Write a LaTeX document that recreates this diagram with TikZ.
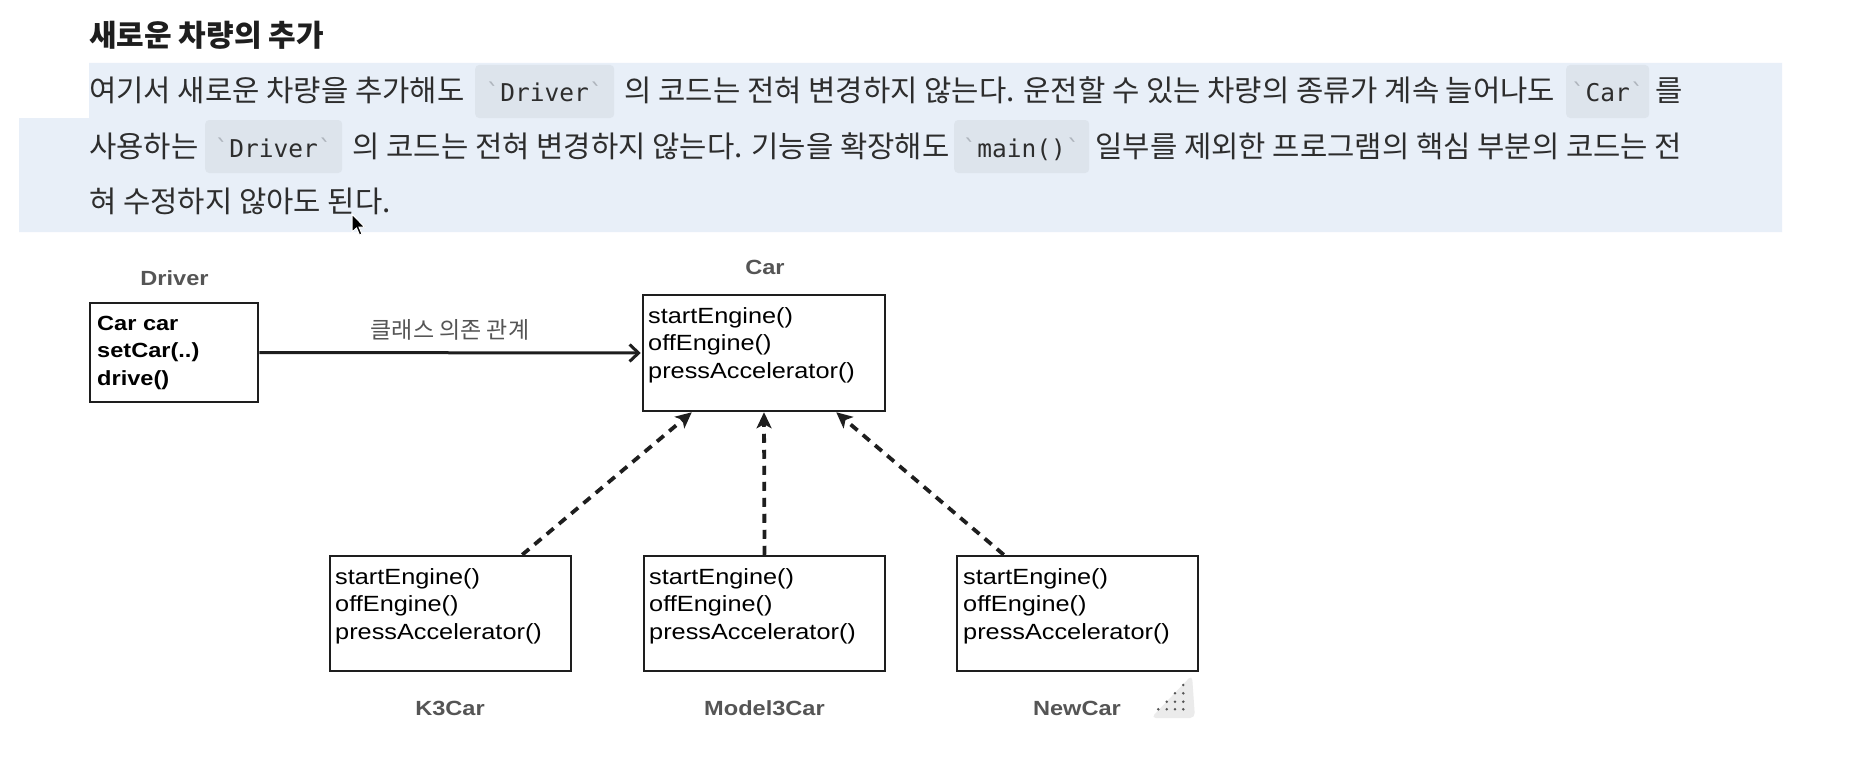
\documentclass[tikz,border=0pt]{standalone}
\usepackage{fontspec}
\usetikzlibrary{arrows.meta,calc}
\newfontfamily\kr{Noto Sans CJK KR}
\newfontfamily\dg{Liberation Sans}[FakeStretch=1.15]
\newfontfamily\mono{DejaVu Sans Mono}
\definecolor{hl}{RGB}{232,239,248}
\definecolor{codebg}{RGB}{221,228,236}
\definecolor{bodytext}{RGB}{45,45,45}
\definecolor{titletext}{RGB}{30,30,30}
\definecolor{tick}{RGB}{175,181,189}
\definecolor{lblgray}{RGB}{85,85,85}
\definecolor{boxline}{RGB}{30,30,30}
\newcommand\tk{\textcolor{tick}{\char"60}}
\begin{document}
\begin{tikzpicture}[x=1pt,y=-1pt,
  seg/.style={anchor=base west, inner sep=0, font=\kr\fontsize{29.7}{36}\selectfont, text=bodytext},
  codebox/.style={anchor=base west, fill=codebg, rounded corners=4pt, inner xsep=0pt, inner ysep=0pt,
     text height=37pt, text depth=16pt, font=\mono\fontsize{24.5}{30}\selectfont, text=bodytext},
  classbox/.style={draw=boxline, line width=2.5pt, fill=white, inner sep=0pt},
  ctext/.style={anchor=base west, inner sep=0pt, font=\dg\fontsize{22}{27.8}\selectfont, text=black},
  btext/.style={anchor=base west, inner sep=0pt, font=\dg\bfseries\fontsize{20.5}{27.8}\selectfont, text=black},
  lbl/.style={anchor=base, inner sep=0pt, font=\dg\bfseries\fontsize{20.5}{25}\selectfont, text=lblgray},
  dep/.style={line width=3pt, draw=boxline, shorten >=1pt, -{Straight Barb[length=9pt,width=17pt,line width=3pt]}},
  impl/.style={line width=3.8pt, draw=boxline, dash pattern=on 9pt off 7pt, -{Stealth[length=16pt,width=15pt,inset=4pt]}}
]
\useasboundingbox (0,0) rectangle (1856,776);
\fill[white] (0,0) rectangle (1856,776);

% highlight
\fill[hl] (89,63) -- (1782,63) -- (1782,232) -- (19,232) -- (19,118) -- (89,118) -- cycle;

% title
\node[anchor=base west, inner sep=0pt, font=\kr\bfseries\fontsize{30}{36}\selectfont, text=titletext] (title) at (89,47) {새로운 차량의 추가};

% line 1
\node[seg] (l1a) at (89,102) {여기서 새로운 차량을 추가해도};
\node[codebox, minimum width=139pt] (l1c1) at (475,102) {\tk Driver\tk};
\node[seg] (l1b) at ($(l1c1.base east)+(10,0)$) {의 코드는 전혀 변경하지 않는다. 운전할 수 있는 차량의 종류가 계속 늘어나도};
\node[codebox, minimum width=83pt] (l1c2) at (1566,102) {\tk Car\tk};
\node[seg] (l1d) at ($(l1c2.base east)+(6,0)$) {를};

% line 2
\node[seg] (l2a) at (89,157) {사용하는};
\node[codebox, minimum width=137pt] (l2c1) at (205,157) {\tk Driver\tk};
\node[seg] (l2b) at ($(l2c1.base east)+(10,0)$) {의 코드는 전혀 변경하지 않는다. 기능을 확장해도};
\node[codebox, minimum width=135pt] (l2c2) at (954,157) {\tk main()\tk};
\node[seg] (l2d) at ($(l2c2.base east)+(6,0)$) {일부를 제외한 프로그램의 핵심 부분의 코드는 전};

% line 3
\node[seg] (l3a) at (89,212) {혀 수정하지 않아도 된다.};

% cursor
\fill[black, draw=white, line width=1pt] (352,214) -- ++(0,18) -- ++(4.5,-4) -- ++(3,7) -- ++(2.5,-1) -- ++(-3,-7) -- ++(5.5,0) -- cycle;

% Driver
\node[lbl] (driverlbl) at (174.5,285) {Driver};
\node[classbox, minimum width=168pt, minimum height=99pt] (driver) at (174,352.5) {};
\node[btext] (drivertext) at (97,330) {\begin{tabular}[t]{@{}l@{}}Car car\\setCar(..)\\drive()\end{tabular}};

% Car
\node[lbl] (carlbl) at (765,274) {Car};
\node[classbox, minimum width=242pt, minimum height=116pt] (car) at (764,353) {};
\node[ctext] (cartext) at (648,323) {\begin{tabular}[t]{@{}l@{}}startEngine()\\offEngine()\\pressAccelerator()\end{tabular}};

% dependency arrow
\draw[dep] (driver.east) -- (car.west);
\node[anchor=base, inner sep=0pt, font=\kr\fontsize{23}{28}\selectfont, text=lblgray] (deplbl) at (450,338) {클래스 의존 관계};

% implementations
\node[classbox, minimum width=241pt, minimum height=115pt] (k3) at (450.5,613.5) {};
\node[ctext] (k3text) at (335,584) {\begin{tabular}[t]{@{}l@{}}startEngine()\\offEngine()\\pressAccelerator()\end{tabular}};
\node[lbl] (k3lbl) at (450,715) {K3Car};

\node[classbox, minimum width=241pt, minimum height=115pt] (m3) at (764.5,613.5) {};
\node[ctext] (m3text) at (649,584) {\begin{tabular}[t]{@{}l@{}}startEngine()\\offEngine()\\pressAccelerator()\end{tabular}};
\node[lbl] (m3lbl) at (764.5,715) {Model3Car};

\node[classbox, minimum width=241pt, minimum height=115pt] (newcar) at (1077.5,613.5) {};
\node[ctext] (newcartext) at (963,584) {\begin{tabular}[t]{@{}l@{}}startEngine()\\offEngine()\\pressAccelerator()\end{tabular}};
\node[lbl] (newcarlbl) at (1077,715) {NewCar};

\draw[impl] ($(k3.north east)+(-50,0)$) -- ($(car.south west)+(50,0)$);
\draw[impl] (m3.north) -- (car.south);
\draw[impl] ($(newcar.north west)+(48,0)$) -- ($(car.south east)+(-50,0)$);

% resize handle icon
\fill[gray!16, rounded corners=5pt] (1151,718) -- (1195,718) -- (1192,675) -- cycle;
\foreach \p in {(1183.3,685),(1175,693.3),(1183.3,693.3),(1166.7,701.7),(1175,701.7),(1183.3,701.7),(1158.3,709.3),(1166.7,709.3),(1175,709.3),(1183.3,709.3)}
  \fill[lblgray] \p circle (1.4pt);
\end{tikzpicture}
\end{document}
